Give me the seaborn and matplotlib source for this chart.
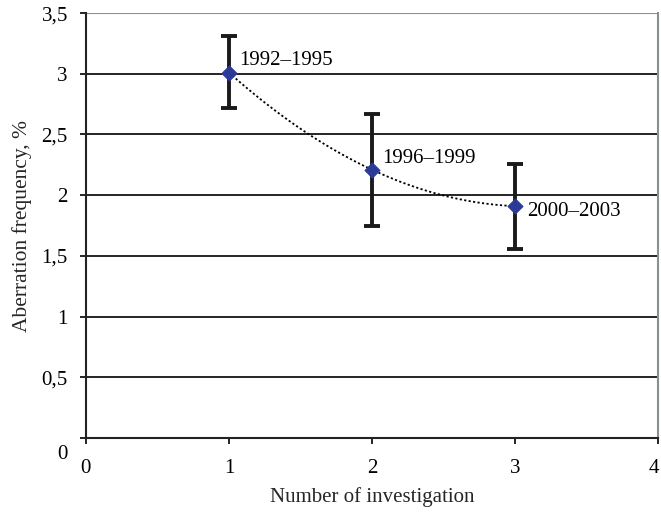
import numpy as np
import pandas as pd
import matplotlib
matplotlib.use("Agg")
import matplotlib.pyplot as plt
import matplotlib.transforms as mtransforms
import seaborn as sns

investigation = [1, 2, 3]
frequency = [3.01, 2.21, 1.91]
err_low = [2.72, 1.75, 1.56]
err_high = [3.31, 2.67, 2.26]
periods = ["1992\u20131995", "1996\u20131999", "2000\u20132003"]
x_ticks = [0, 1, 2, 3, 4]
y_ticks = [0, 0.5, 1, 1.5, 2, 2.5, 3, 3.5]
y_ticklabels = ["0", "0,5", "1", "1,5", "2", "2,5", "3", "3,5"]

df = pd.DataFrame({"x": investigation, "y": frequency})

sns.set_theme(style="white")
plt.rcParams["font.family"] = ["Liberation Serif", "DejaVu Serif"]

FS = 15

fig = plt.figure(figsize=(6.61, 5.12), dpi=100)
ax = fig.add_axes([0.130, 0.1445, 0.8655, 0.830])

for yv in y_ticks[1:-1]:
    ax.axhline(yv, color="black", lw=1.2, zorder=1)
ax.axhline(3.5, color="#8a8f94", lw=1.5, zorder=1)

# dotted trend (quadratic through the points)
coef = np.polyfit(investigation, frequency, 2)
xs = np.linspace(min(investigation), max(investigation), 100)
trend = pd.DataFrame({"x": xs, "y": np.polyval(coef, xs)})
sns.lineplot(data=trend, x="x", y="y", ax=ax, color="black", lw=1.3,
             linestyle=(0, (1.2, 1.3)), zorder=2)

yerr = np.array([np.array(frequency) - np.array(err_low),
                 np.array(err_high) - np.array(frequency)])
ax.errorbar(investigation, frequency, yerr=yerr, fmt="none", ecolor="#1a1a1a",
            elinewidth=2.8, capsize=6, capthick=2.8, zorder=3)

sns.scatterplot(data=df, x="x", y="y", ax=ax, marker="D", s=60,
                color="#2b3a97", edgecolor="#2b3a97", zorder=4)

offsets = [(7, 9), (7.5, 8), (9, -4)]
for xi, yi, lab, off in zip(investigation, frequency, periods, offsets):
    ax.annotate(lab, (xi, yi), xytext=off, textcoords="offset points",
                fontsize=FS, color="black", ha="left", va="center")

ax.set_xlim(0, 4)
ax.set_ylim(0, 3.5)
ax.set_xticks(x_ticks)
ax.set_xticklabels([str(v) for v in x_ticks])
ax.set_yticks(y_ticks)
ax.set_yticklabels(y_ticklabels)

ax.tick_params(axis="both", direction="out", length=4, width=1.2, colors="black",
               labelsize=FS, bottom=True, left=True)
ax.tick_params(axis="x", pad=11)
ax.tick_params(axis="y", pad=9)

# shift the y "0" label down and the x "4" label left, as in the reference
lbl0 = ax.get_yticklabels()[0]
lbl0.set_transform(lbl0.get_transform() + mtransforms.ScaledTranslation(0, -10/72, fig.dpi_scale_trans))
lbl4 = ax.get_xticklabels()[-1]
lbl4.set_transform(lbl4.get_transform() + mtransforms.ScaledTranslation(-3/72, 0, fig.dpi_scale_trans))

ax.set_xlabel("Number of investigation", fontsize=FS, labelpad=7)
ax.set_ylabel("Aberration frequency, %", fontsize=15.5, labelpad=7)

for side in ["left", "bottom"]:
    ax.spines[side].set_color("#222222")
    ax.spines[side].set_linewidth(1.5)
ax.spines["top"].set_visible(False)
ax.spines["right"].set_color("#8a8f94")
ax.spines["right"].set_linewidth(1.5)

fig.savefig("out.png", dpi=100)
